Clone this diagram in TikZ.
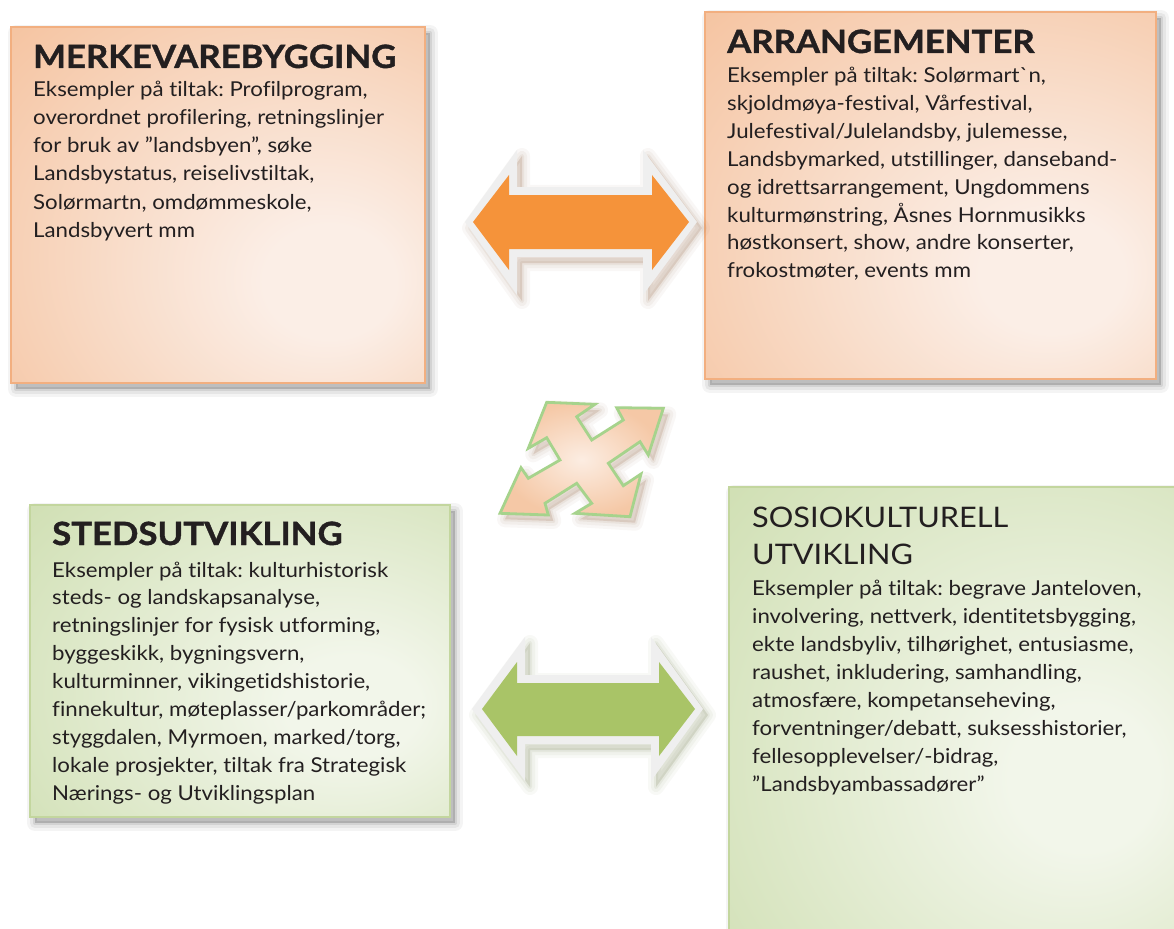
\documentclass[tikz,border=0pt]{standalone}
\usepackage{fontspec}
\setmainfont{Lato}[Ligatures={TeXOff,NoCommon}, FakeStretch=1.085, BoldFeatures={FakeBold=1.2}]
\frenchspacing
\definecolor{txt}{HTML}{231F20}
\definecolor{orin}{HTML}{FBEEE6}
\definecolor{orout}{HTML}{F3B487}
\definecolor{orline}{HTML}{F2AF80}
\definecolor{grin}{HTML}{F2F6EA}
\definecolor{grout}{HTML}{C2D69D}
\definecolor{grline}{HTML}{C3D69E}
\definecolor{arrorange}{HTML}{F5933A}
\definecolor{arrgreen}{HTML}{A9C467}
\definecolor{arrrim}{HTML}{EFEFEF}
\definecolor{xfillin}{HTML}{FCEDE2}
\definecolor{xfillout}{HTML}{F5C8A6}
\definecolor{xline}{HTML}{A6D38C}
\definecolor{shbrown}{HTML}{8A5A33}
\definecolor{sholive}{HTML}{6F7A45}
\pgfdeclareradialshading{orshade}{\pgfpoint{15bp}{-12bp}}{color(0bp)=(orin); color(8bp)=(orin); color(58bp)=(orout); color(80bp)=(orout)}
\pgfdeclareradialshading{grshade}{\pgfpoint{15bp}{-8bp}}{color(0bp)=(grin); color(8bp)=(grin); color(58bp)=(grout); color(80bp)=(grout)}
\begin{document}
\begin{tikzpicture}[x=1pt,y=-1pt,
  sshadow/.style={
    preaction={draw=#1, fill=#1, line width=16pt, line join=round, opacity=0.045, transform canvas={shift={(5pt,-6pt)}}},
    preaction={draw=#1, fill=#1, line width=10pt, line join=round, opacity=0.055, transform canvas={shift={(5pt,-6pt)}}},
    preaction={draw=#1, fill=#1, line width=4pt, line join=round, opacity=0.08, transform canvas={shift={(5pt,-6pt)}}}},
  orbox/.style={draw=orline, line width=2pt, shading=orshade, inner sep=0pt},
  grbox/.style={draw=grline, line width=2pt, shading=grshade, inner sep=0pt},
  body/.style={font=\fontsize{20.5}{24}\selectfont, text=txt, inner sep=0pt, anchor=base west},
  title/.style={font=\fontsize{32}{36}\selectfont\bfseries, text=txt, inner sep=0pt, anchor=base west},
  titlereg/.style={font=\fontsize{28.3}{34}\selectfont, text=txt, inner sep=0pt, anchor=base west}]
\useasboundingbox (0,0) rectangle (1174,928);
\fill[white] (0,0) rectangle (1174,928);
\clip (0,0) rectangle (1174,928);

% boxes
\node[orbox, sshadow=black, minimum width=414pt, minimum height=356pt] (merke) at (218,205) {};
\node[orbox, sshadow=black, minimum width=451pt, minimum height=367pt] (arr) at (930.5,195.5) {};
\node[grbox, sshadow=black, minimum width=420pt, minimum height=312pt] (steds) at (240,661) {};
\node[grbox, sshadow=black, minimum width=461pt, minimum height=453pt] (sosio) at (959.5,713.5) {};

% orange double arrow
\path[sshadow=shbrown, fill=arrrim] (465,222) -- (517,150) -- (517,187) -- (643,187) -- (643,150) -- (697,222) -- (643,295) -- (643,257) -- (517,257) -- (517,295) -- cycle;
\path[fill=arrorange] (473,222) -- (509,175) -- (509,195) -- (652,195) -- (652,175) -- (689,222) -- (652,270) -- (652,249) -- (509,249) -- (509,270) -- cycle;

% green double arrow
\path[sshadow=sholive, fill=arrrim] (472,709) -- (525,637) -- (525,675) -- (651,675) -- (651,637) -- (703,709) -- (651,781) -- (651,744) -- (525,744) -- (525,781) -- cycle;
\path[fill=arrgreen] (482,709) -- (517,662) -- (517,683) -- (659,683) -- (659,662) -- (695,709) -- (659,756) -- (659,736) -- (517,736) -- (517,756) -- cycle;

% four-way arrow
\path[sshadow=shbrown, inner color=xfillin, outer color=xfillout, draw=xline, line width=2.8pt, line join=miter]
  (546.7,402.3) -- (595,404.3) -- (576.7,416.7) -- (591.7,440) -- (623.3,420) -- (616.7,407.7) -- (663.3,408.3)
  -- (648.3,455) -- (640,441.7) -- (608.3,463.3) -- (623.3,485.7) -- (641,474) -- (630,516.7)
  -- (575,513.3) -- (591.7,503.3) -- (576.7,483.3) -- (545,503.3) -- (548.3,515) -- (500,513.3)
  -- (521,467.7) -- (528.3,478.3) -- (560,460) -- (546.7,437.7) -- (528.3,448.3) -- cycle;

% texts: MERKEVAREBYGGING
\node[title] (mt) at (33,68) {MERKEVAREBYGGING};
\foreach \t [count=\i] in {{Eksempler på tiltak: Profilprogram,},{overordnet profilering, retningslinjer},{for bruk av ”landsbyen”, søke},{Landsbystatus, reiselivstiltak,},{Solørmartn, omdømmeskole,},{Landsbyvert mm}}
  \node[body] (mb\i) at (33,{97+28*(\i-1)}) {\t};

% ARRANGEMENTER
\node[title] (at) at (727,53) {ARRANGEMENTER};
\foreach \t [count=\i] in {{Eksempler på tiltak: Solørmart`n,},{skjoldmøya-festival, Vårfestival,},{Julefestival/Julelandsby, julemesse,},{Landsbymarked, utstillinger, danseband-},{og idrettsarrangement, Ungdommens},{kulturmønstring, Åsnes Hornmusikks},{høstkonsert, show, andre konserter,},{frokostmøter, events mm}}
  \node[body] (ab\i) at (727,{83+27.8*(\i-1)}) {\t};

% STEDSUTVIKLING
\node[title] (st) at (52,545) {STEDSUTVIKLING};
\foreach \t [count=\i] in {{Eksempler på tiltak: kulturhistorisk},{steds- og landskapsanalyse,},{retningslinjer for fysisk utforming,},{byggeskikk, bygningsvern,},{kulturminner, vikingetidshistorie,},{finnekultur, møteplasser/parkområder;},{styggdalen, Myrmoen, marked/torg,},{lokale prosjekter, tiltak fra Strategisk},{Nærings- og Utviklingsplan}}
  \node[body] (sb\i) at (52,{577+27.9*(\i-1)}) {\t};

% SOSIOKULTURELL UTVIKLING
\node[titlereg] (ot1) at (752,527) {SOSIOKULTURELL};
\node[titlereg] (ot2) at (752,564) {UTVIKLING};
\foreach \t [count=\i] in {{Eksempler på tiltak: begrave Janteloven,},{involvering, nettverk, identitetsbygging,},{ekte landsbyliv, tilhørighet, entusiasme,},{raushet, inkludering, samhandling,},{atmosfære, kompetanseheving,},{forventninger/debatt, suksesshistorier,},{fellesopplevelser/-bidrag,},{”Landsbyambassadører”}}
  \node[body] (ob\i) at (752,{595+28*(\i-1)}) {\t};
\end{tikzpicture}
\end{document}
